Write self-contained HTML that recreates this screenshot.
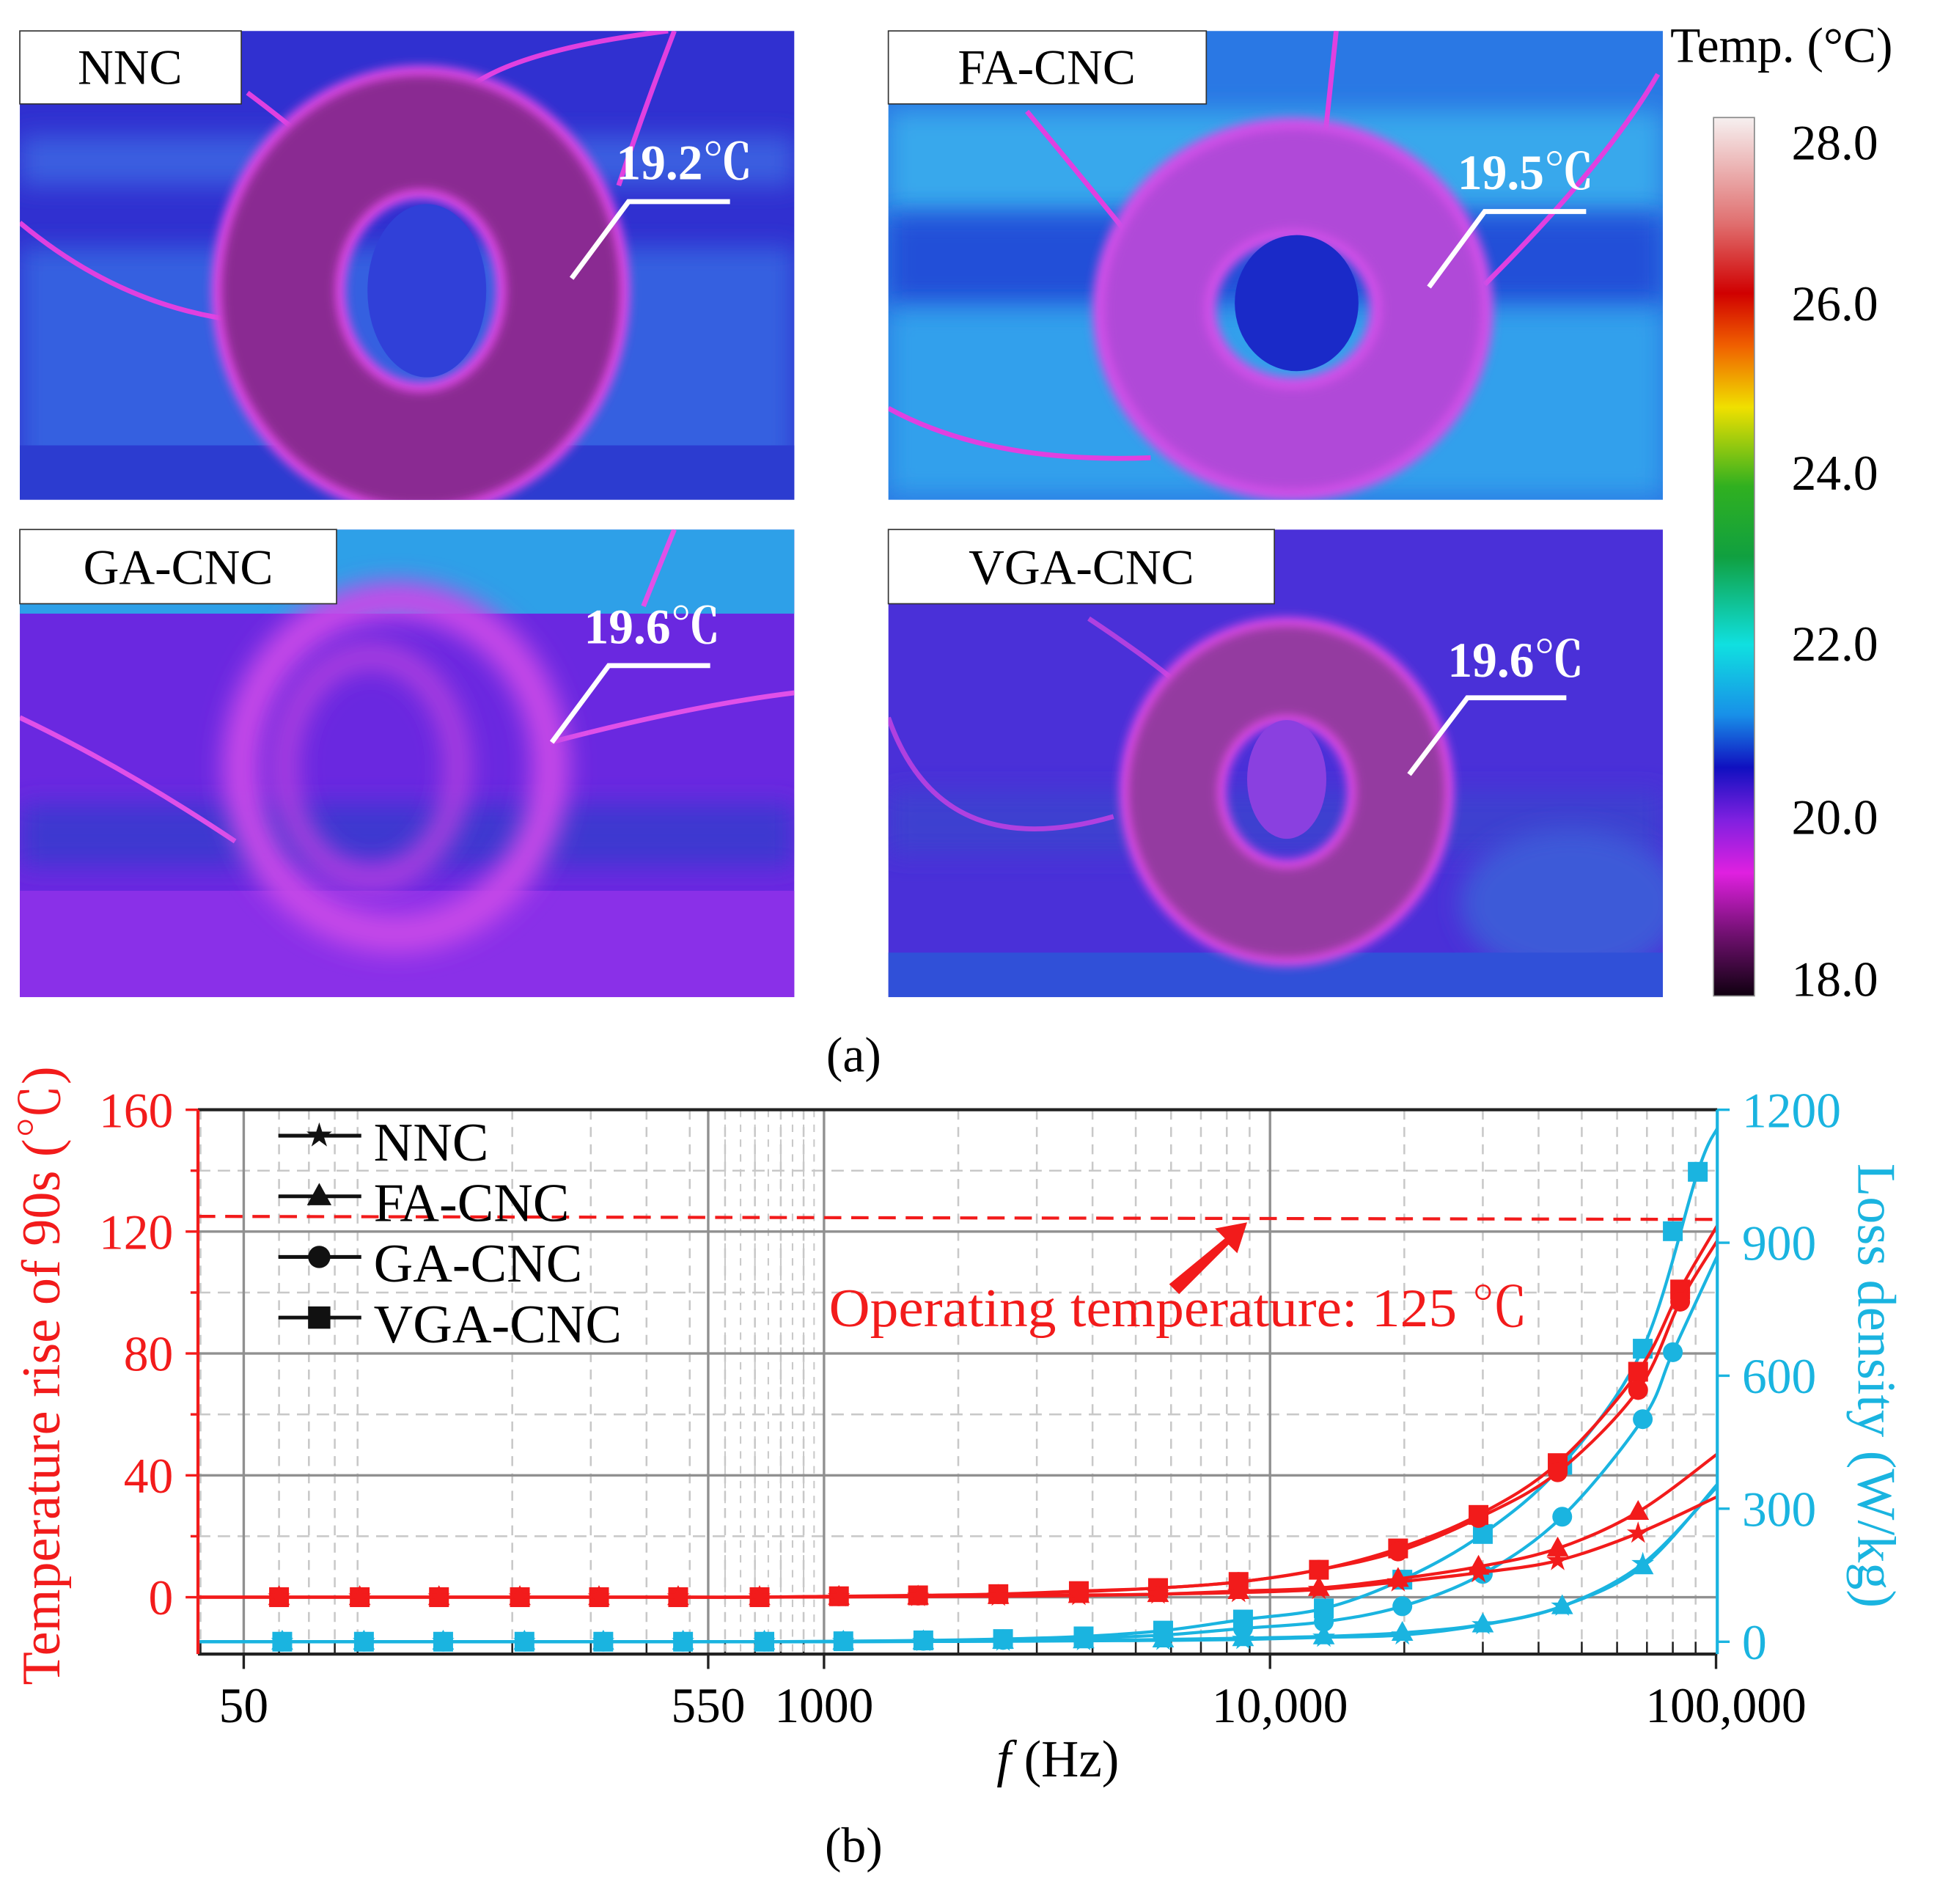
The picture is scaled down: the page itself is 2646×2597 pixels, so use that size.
<!DOCTYPE html>
<html><head><meta charset="utf-8"><style>
html,body{margin:0;padding:0;background:#fff;}
svg{display:block;}
text{font-family:"Liberation Serif","Noto Serif CJK SC",serif;}
</style></head><body>
<svg id="fig" width="2646" height="2597" viewBox="0 0 1568 1539" xmlns="http://www.w3.org/2000/svg">
<defs>
<filter id="blur4" x="-50%" y="-50%" width="200%" height="200%"><feGaussianBlur stdDeviation="4"/></filter>
<filter id="blur10" x="-50%" y="-50%" width="200%" height="200%"><feGaussianBlur stdDeviation="10"/></filter>
<linearGradient id="cbar" x1="0" y1="0" x2="0" y2="1">
<stop offset="0" stop-color="#f6f0f0"/><stop offset="0.12" stop-color="#e07070"/>
<stop offset="0.2" stop-color="#d00000"/><stop offset="0.26" stop-color="#f06000"/>
<stop offset="0.33" stop-color="#f0e000"/><stop offset="0.42" stop-color="#30b020"/>
<stop offset="0.5" stop-color="#10a040"/><stop offset="0.6" stop-color="#10e0e0"/>
<stop offset="0.68" stop-color="#1890e8"/><stop offset="0.74" stop-color="#1010c0"/>
<stop offset="0.8" stop-color="#8020e0"/><stop offset="0.86" stop-color="#e020e0"/>
<stop offset="0.93" stop-color="#701070"/><stop offset="1" stop-color="#100010"/>
</linearGradient>
<clipPath id="c1"><rect x="16" y="25" width="626" height="379"/></clipPath>
<clipPath id="c2"><rect x="718" y="25" width="626" height="379"/></clipPath>
<clipPath id="c3"><rect x="16" y="428" width="626" height="378"/></clipPath>
<clipPath id="c4"><rect x="718" y="428" width="626" height="378"/></clipPath>
</defs>

<g clip-path="url(#c1)">
<rect x="16" y="25" width="626" height="379" fill="#3030d0"/>
<rect x="16" y="110" width="626" height="40" fill="#3a5ee0" filter="url(#blur10)"/>
<rect x="16" y="200" width="626" height="180" fill="#3460e0" filter="url(#blur10)"/>
<rect x="16" y="360" width="626" height="44" fill="#2c3cd0"/>
<path d="M16 180 Q100 250 200 260 M200 75 Q260 120 300 160 M380 70 Q420 40 540 25 M500 150 Q520 90 545 25" stroke="#e040e0" stroke-width="4" fill="none"/>
<ellipse cx="340" cy="235" rx="115" ry="128" fill="none" stroke="#e048e8" stroke-width="108" filter="url(#blur4)"/>
<ellipse cx="340" cy="235" rx="115" ry="128" fill="none" stroke="#8a2a92" stroke-width="92" filter="url(#blur4)"/>
<ellipse cx="345" cy="235" rx="48" ry="70" fill="#3040d8"/>
</g>
<g clip-path="url(#c2)">
<rect x="718" y="25" width="626" height="379" fill="#2a78e4"/>
<rect x="718" y="90" width="626" height="80" fill="#38a8ec" filter="url(#blur10)"/>
<rect x="718" y="175" width="626" height="70" fill="#2050d8" filter="url(#blur10)"/>
<rect x="718" y="250" width="626" height="150" fill="#30a0ec" filter="url(#blur10)"/>
<path d="M718 330 Q800 375 930 370 M1080 25 L1070 120 M1200 230 Q1300 130 1340 60 M830 90 Q880 150 920 200" stroke="#e040e0" stroke-width="4" fill="none"/>
<ellipse cx="1045" cy="250" rx="112" ry="105" fill="none" stroke="#d050e8" stroke-width="100" filter="url(#blur4)"/>
<ellipse cx="1045" cy="250" rx="112" ry="105" fill="none" stroke="#b048d8" stroke-width="80" filter="url(#blur4)"/>
<ellipse cx="1048" cy="245" rx="50" ry="55" fill="#1a2ac8"/>
</g>
<g clip-path="url(#c3)">
<rect x="16" y="428" width="626" height="378" fill="#6a28e0"/>
<rect x="16" y="428" width="626" height="68" fill="#2ea0e8"/>
<rect x="16" y="650" width="626" height="50" fill="#3c38d0" filter="url(#blur10)"/>
<rect x="16" y="720" width="626" height="86" fill="#8a30e8"/>
<path d="M16 580 Q100 620 190 680 M445 600 Q560 570 642 560 M520 490 L545 428" stroke="#e050e8" stroke-width="4" fill="none"/>
<ellipse cx="320" cy="620" rx="125" ry="135" fill="none" stroke="#c848e8" stroke-width="30" filter="url(#blur10)"/>
<ellipse cx="300" cy="620" rx="70" ry="90" fill="none" stroke="#b040e0" stroke-width="20" filter="url(#blur10)"/>
</g>
<g clip-path="url(#c4)">
<rect x="718" y="428" width="626" height="378" fill="#4a30d8"/>
<rect x="718" y="640" width="626" height="50" fill="#3c40d0" filter="url(#blur10)"/>
<ellipse cx="1270" cy="730" rx="90" ry="60" fill="#3c5ad8" filter="url(#blur10)"/>
<rect x="718" y="770" width="626" height="36" fill="#3050d8"/>
<path d="M718 580 Q760 700 900 660 M880 500 Q940 540 960 560" stroke="#b040e0" stroke-width="4" fill="none"/>
<ellipse cx="1040" cy="640" rx="92" ry="98" fill="none" stroke="#e048e8" stroke-width="86" filter="url(#blur4)"/>
<ellipse cx="1040" cy="640" rx="92" ry="98" fill="none" stroke="#943aa0" stroke-width="72" filter="url(#blur4)"/>
<ellipse cx="1040" cy="630" rx="32" ry="48" fill="#8a40e0"/>
</g>

<g><rect x="16" y="25" width="179" height="59" fill="#fff" stroke="#333"/><text x="105" y="68" font-size="40" text-anchor="middle">NNC</text></g>
<g><rect x="718" y="25" width="257" height="59" fill="#fff" stroke="#333"/><text x="846" y="68" font-size="40" text-anchor="middle">FA-CNC</text></g>
<g><rect x="16" y="428" width="256" height="60" fill="#fff" stroke="#333"/><text x="144" y="472" font-size="40" text-anchor="middle">GA-CNC</text></g>
<g><rect x="718" y="428" width="312" height="60" fill="#fff" stroke="#333"/><text x="874" y="472" font-size="40" text-anchor="middle">VGA-CNC</text></g>

<g fill="#fff" font-size="40" font-weight="bold" stroke="none">
<text x="498" y="145">19.2℃</text>
<text x="1178" y="153">19.5℃</text>
<text x="472" y="520">19.6℃</text>
<text x="1170" y="547">19.6℃</text>
</g>
<g stroke="#fff" stroke-width="4" fill="none">
<polyline points="462,225 508,163 590,163"/>
<polyline points="1155,232 1200,171 1282,171"/>
<polyline points="446,600 492,538 574,538"/>
<polyline points="1139,626 1186,564 1266,564"/>
</g>

<g>
<text x="1350" y="50" font-size="40">Temp. (°C)</text>
<rect x="1385" y="95" width="33" height="710" fill="url(#cbar)" stroke="#888"/>
<g font-size="40" text-anchor="start">
<text x="1448" y="129">28.0</text><text x="1448" y="259">26.0</text><text x="1448" y="396">24.0</text>
<text x="1448" y="534">22.0</text><text x="1448" y="674">20.0</text><text x="1448" y="805">18.0</text>
</g></g>
<text x="690" y="866" font-size="40" text-anchor="middle">(a)</text>

<g id="chart"></g>
<text x="690" y="1505" font-size="40" text-anchor="middle">(b)</text>
</svg>
<script>
const freqs = [60, 91, 137, 208, 313, 471, 717, 1080, 1625, 2460, 3727, 5610, 8500, 12870, 19370, 29340, 44150, 66880, 83100];
const tempVGA = [0,0,0,0,0,0,0,0.3,0.6,1,2,3,5,9,16,27,44,74,101];
const tempGA  = [0,0,0,0,0,0,0,0.3,0.5,1,1.8,3,5,9,15,26,41,68,97];
const tempFA  = [0,0,0,0,0,0,0,0.1,0.2,0.4,0.7,1,2,3,6,10,16,28,null];
const tempNNC = [0,0,0,0,0,0,0,0.1,0.2,0.3,0.5,1,1.5,2.5,5,8,12,21,null];
const lossFreqs = [61, 93, 140, 213, 320, 483, 735, 1105, 1670, 2520, 3820, 5760, 8700, 13200, 19800, 30000, 45200, 68500, 80000, 91000];
const lossVGA = [0,0,0,0,0,0,0,1,3,6,12,25,50,75,140,243,399,661,null,1060];
const lossVGA2 = 926;
const lossGA  = [0,0,0,0,0,0,0,1,2,4,8,15,30,45,80,153,282,502,653,null];
const lossFA  = [0,0,0,0,0,0,0,0,1,2,3,5,8,12,20,39,80,170,null,null];
const lossNNC = [0,0,0,0,0,0,0,0,0.5,1,2,3,5,10,15,38,80,176,null,null];
const tempFitEnd = [122, 117, 47, 33];
const lossFitEnd = [1158, 870, 355, 350];
const leftTicks = [0, 40, 80, 120, 160];
const rightTicks = [0, 300, 600, 900, 1200];
const xTickLabels = ["50", "550", "1000", "10,000", "100,000"];
const xTickValues = [50, 550, 1000, 10000, 100000];
const seriesNames = ["VGA-CNC", "GA-CNC", "FA-CNC", "NNC"];

const NS = "http://www.w3.org/2000/svg";
const X0 = 160, X1 = 1388, Y0 = 897, Y1 = 1337;
const RED = "#f21b1b", CY = "#1ab4e0";
function xs(f){ return 666 + (Math.log10(f) - 3) * 360.5; }
function yl(v){ return 1291 - v * 98.5 / 40; }
function yr(v){ return 1327 - v * 107.5 / 300; }
const chart = document.getElementById("chart");
function mk(tag, attrs, parent){ const e = document.createElementNS(NS, tag); for (const k in attrs) e.setAttribute(k, attrs[k]); (parent || chart).appendChild(e); return e; }

for (let d = 1; d <= 5; d++) {
  for (let m = 2; m <= 9; m++) {
    const f = m * Math.pow(10, d);
    if (xs(f) <= X0 || xs(f) >= X1) continue;
    const g = mk("line", {x1: xs(f), x2: xs(f), y1: Y0, y2: Y1, stroke: "#c8c8c8", "stroke-width": 1.5, "stroke-dasharray": "8,6"});
    
    
    const t = mk("line", {x1: xs(f), x2: xs(f), y1: Y1, y2: Y1 - 10, stroke: "#222", "stroke-width": 1.5});
    
    
  }
}
for (let f = 600; f < 1000; f += 50) {
  const g = mk("line", {x1: xs(f), x2: xs(f), y1: Y0, y2: Y1, stroke: "#c8c8c8", "stroke-width": 1.2, "stroke-dasharray": "6,6"});
  
  
}
[20, 60, 100, 140].forEach(v => {
  const g = mk("line", {x1: X0, x2: X1, y1: yl(v), y2: yl(v), stroke: "#c8c8c8", "stroke-width": 1.5, "stroke-dasharray": "10,6"});
  
  
});
leftTicks.forEach(v => {
  if (v === 160) return;
  const g = mk("line", {x1: X0, x2: X1, y1: yl(v), y2: yl(v), stroke: "#909090", "stroke-width": 2});
  
  
});
xTickValues.forEach(f => {
  if (f === 100000) return;
  const g = mk("line", {x1: xs(f), x2: xs(f), y1: Y0, y2: Y1, stroke: "#909090", "stroke-width": 2});
  
  
});

const op = mk("line", {x1: X0, x2: X1, y1: yl(125), y2: yl(124), stroke: RED, "stroke-width": 2.5, "stroke-dasharray": "14,8"});


const arr = mk("path", {d: "M945 1038 L990 1001 L982 993 L1008 988 L1000 1013 L993 1006 L953 1046 Z", fill: RED});


const opT = mk("text", {x: 670, y: 1072, "font-size": 44, fill: RED, textLength: 565, lengthAdjust: "spacingAndGlyphs"});
opT.textContent = "Operating temperature: 125 ℃";



function smoothPath(pts){
  let d = "M" + pts[0][0] + " " + pts[0][1];
  for (let i = 0; i < pts.length - 1; i++) {
    const p0 = pts[Math.max(0, i - 1)], p1 = pts[i], p2 = pts[i + 1], p3 = pts[Math.min(pts.length - 1, i + 2)];
    const c1x = p1[0] + (p2[0] - p0[0]) / 6, c1y = p1[1] + (p2[1] - p0[1]) / 6;
    const c2x = p2[0] - (p3[0] - p1[0]) / 6, c2y = p2[1] - (p3[1] - p1[1]) / 6;
    d += " C" + c1x + " " + c1y + " " + c2x + " " + c2y + " " + p2[0] + " " + p2[1];
  }
  return d;
}
function marker(type, x, y, col, parent, r){
  r = r || 8;
  let e;
  if (type === "square") e = mk("rect", {x: x - r, y: y - r, width: 2 * r, height: 2 * r, fill: col}, parent);
  else if (type === "circle") e = mk("circle", {cx: x, cy: y, r: r, fill: col}, parent);
  else if (type === "triangle") e = mk("polygon", {points: `${x},${y - r * 1.2} ${x - r * 1.1},${y + r * 0.8} ${x + r * 1.1},${y + r * 0.8}`, fill: col}, parent);
  else {
    let p = [];
    for (let k = 0; k < 10; k++) { const a = -Math.PI / 2 + k * Math.PI / 5, rr = k % 2 ? r * 0.45 : r * 1.2; p.push((x + rr * Math.cos(a)).toFixed(1) + "," + (y + rr * Math.sin(a)).toFixed(1)); }
    e = mk("polygon", {points: p.join(" "), fill: col}, parent);
  }
  
  
}
const types = ["square", "circle", "triangle", "star"];
function drawSeries(fr, vals, endV, ys, col, type, name){
  const g = mk("g", {});
  
  
  const pts = [[X0, ys(vals[0])]];
  fr.forEach((f, i) => { if (vals[i] !== null) pts.push([xs(f), ys(vals[i])]); });
  pts.push([X1, ys(endV)]);
  mk("path", {d: smoothPath(pts), fill: "none", stroke: col, "stroke-width": 2.5}, g);
  fr.forEach((f, i) => { if (vals[i] !== null) marker(type, xs(f), ys(vals[i]), col, g); });
  return g;
}
const temps = [tempVGA, tempGA, tempFA, tempNNC];
const losses = [lossVGA, lossGA, lossFA, lossNNC];
losses.forEach((s, i) => {
  const g = drawSeries(lossFreqs, s, lossFitEnd[i], yr, CY, types[i], "loss-series-" + seriesNames[i].toLowerCase());
  if (i === 0) marker("square", xs(80000), yr(lossVGA2), CY, g);
});
temps.forEach((s, i) => drawSeries(freqs, s, tempFitEnd[i], yl, RED, types[i], "temp-series-" + seriesNames[i].toLowerCase()));

const topLine = mk("line", {x1: X0, x2: X1, y1: Y0, y2: Y0, stroke: "#222", "stroke-width": 2.5});


const botLine = mk("line", {x1: X0, x2: X1, y1: Y1, y2: Y1, stroke: "#222", "stroke-width": 2.5});


const la = mk("line", {x1: X0, x2: X0, y1: Y0, y2: Y1, stroke: RED, "stroke-width": 2.5});


const ra = mk("line", {x1: X1, x2: X1, y1: Y0, y2: Y1, stroke: CY, "stroke-width": 2.5});



leftTicks.forEach(v => {
  const t = mk("line", {x1: X0 - 10, x2: X0, y1: yl(v), y2: yl(v), stroke: RED, "stroke-width": 2});
  
  
  const l = mk("text", {x: X0 - 20, y: yl(v) + 14, "font-size": 40, fill: RED, "text-anchor": "end"});
  l.textContent = String(v);
  
  
});
[20, 60, 100, 140].forEach(v => {
  const t = mk("line", {x1: X0 - 6, x2: X0, y1: yl(v), y2: yl(v), stroke: RED, "stroke-width": 2});
  
  
});
rightTicks.forEach(v => {
  const t = mk("line", {x1: X1, x2: X1 + 10, y1: yr(v), y2: yr(v), stroke: CY, "stroke-width": 2});
  
  
  const l = mk("text", {x: X1 + 20, y: yr(v) + 14, "font-size": 40, fill: CY});
  l.textContent = String(v);
  
  
});
xTickValues.forEach((f, i) => {
  const t = mk("line", {x1: xs(f), x2: xs(f), y1: Y1, y2: Y1 + 12, stroke: "#222", "stroke-width": 2});
  
  
  const l = mk("text", {x: xs(f) + (i >= 3 ? 8 : 0), y: 1392, "font-size": 40, "text-anchor": "middle"});
  l.textContent = xTickLabels[i];
  
  
});
const xt = mk("text", {x: 855, y: 1436, "font-size": 42, "text-anchor": "middle"});
xt.innerHTML = '<tspan font-style="italic">f</tspan> (Hz)';


const ylt = mk("text", {x: 0, y: 0, "font-size": 44, fill: RED, "text-anchor": "middle", transform: "translate(48,1112) rotate(-90)"});
ylt.textContent = "Temperature rise of 90s (℃)";


const yrt = mk("text", {x: 0, y: 0, "font-size": 44, fill: CY, "text-anchor": "middle", transform: "translate(1502,1120) rotate(90)"});
yrt.textContent = "Loss density (W/kg)";



const legendNames = ["NNC", "FA-CNC", "GA-CNC", "VGA-CNC"];
const legendTypes = ["star", "triangle", "circle", "square"];
legendNames.forEach((n, i) => {
  const g = mk("g", {});
  
  
  const y = 918 + i * 49;
  mk("line", {x1: 225, x2: 292, y1: y, y2: y, stroke: "#111", "stroke-width": 3}, g);
  marker(legendTypes[i], 258, y, "#111", g, 9);
  const t = mk("text", {x: 302, y: y + 20, "font-size": 44}, g);
  t.textContent = n;
});
</script>
</body></html>
